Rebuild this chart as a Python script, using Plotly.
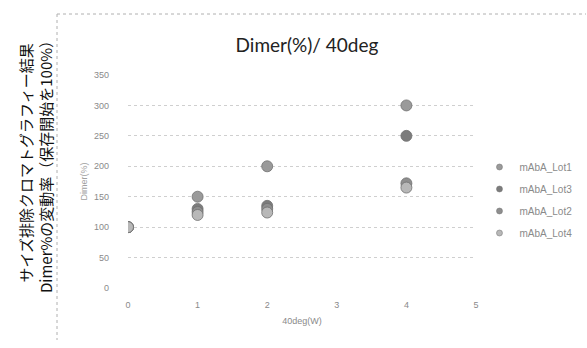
import plotly.graph_objects as go

# Storage time at 40 deg (weeks) and Dimer% relative change (start = 100%)
weeks = [0, 1, 2, 4]
lot1 = [100, 150, 200, 300]
lot3 = [100, 130, 135, 250]
lot2 = [100, 125, 130, 172]
lot4 = [100, 120, 124, 165]

series = [
    ("mAbA_Lot1", lot1, "#9a9a9a"),
    ("mAbA_Lot3", lot3, "#7c7c7c"),
    ("mAbA_Lot2", lot2, "#8e8e8e"),
    ("mAbA_Lot4", lot4, "#b8b8b8"),
]

y_ticks = [0, 50, 100, 150, 200, 250, 300, 350]
x_ticks = [0, 1, 2, 3, 4, 5]

fig = go.Figure()
for name, vals, col in series:
    fig.add_trace(go.Scatter(
        x=weeks, y=vals, mode="markers", name=name, showlegend=False,
        marker=dict(size=11, color=col, line=dict(width=0.8, color="#707070")),
    ))
# Legend entries with small swatches
for name, vals, col in series:
    fig.add_trace(go.Scatter(
        x=[None], y=[None], mode="markers", name=name, legendgroup=name,
        marker=dict(size=6, color=col, line=dict(width=0.5, color="#707070")),
    ))

W, H = 587, 348
L, R, T, B = 128, 111, 75, 60
pw, ph = W - L - R, H - T - B


def px_x(p):
    return (p - L) / pw


def px_y(p):
    return (H - B - p) / ph


grey = "#8a8a8a"
fig.update_layout(
    width=W, height=H,
    margin=dict(l=L, r=R, t=T, b=B, autoexpand=False),
    paper_bgcolor="white", plot_bgcolor="white",
    font=dict(family="Liberation Sans, Arial, sans-serif", color=grey, size=9),
    title=dict(text="Dimer(%)/ 40deg", x=px_x(310), xanchor="center",
               y=1 - 45 / H, yanchor="middle",
               font=dict(family="Lato, Open Sans, sans-serif", size=19, color="#222222")),
    xaxis=dict(range=[0, 5], tickvals=x_ticks, showgrid=False, zeroline=False,
               showline=False, ticks="", ticklabelstandoff=10,
               title=dict(text="40deg(W)", font=dict(size=9, color=grey), standoff=8)),
    yaxis=dict(range=[0, 350], tickvals=y_ticks, showgrid=True, gridcolor="#cfcfcf",
               griddash="dot", gridwidth=1, zeroline=False, showline=False,
               ticks="", ticklabelstandoff=18,
               title=dict(text="Dimer(%)", font=dict(size=9, color="#a0a0a0"), standoff=4)),
    legend=dict(x=1.01, xanchor="left", y=px_y(200), yanchor="middle",
                font=dict(size=10, color=grey), tracegroupgap=3,
                itemwidth=30, bgcolor="rgba(0,0,0,0)"),
)

# Vertical two-line heading on the left
fig.add_annotation(
    text="サイズ排除クロマトグラフィー結果<br>Dimer%の変動率（保存開始を100%）",
    xref="paper", yref="paper", x=px_x(35), y=px_y(163),
    xanchor="center", yanchor="middle", textangle=-90, showarrow=False,
    font=dict(family="Noto Sans CJK JP", size=15, color="#111111"),
)

# Dotted chart frame (top and left edges)
fig.add_shape(type="line", xref="paper", yref="paper",
              x0=px_x(57), x1=px_x(586), y0=px_y(14), y1=px_y(14),
              line=dict(color="#b0b0b0", width=1, dash="dot"))
fig.add_shape(type="line", xref="paper", yref="paper",
              x0=px_x(57), x1=px_x(57), y0=px_y(14), y1=px_y(340),
              line=dict(color="#b0b0b0", width=1, dash="dot"))

fig.write_html("out.html")
